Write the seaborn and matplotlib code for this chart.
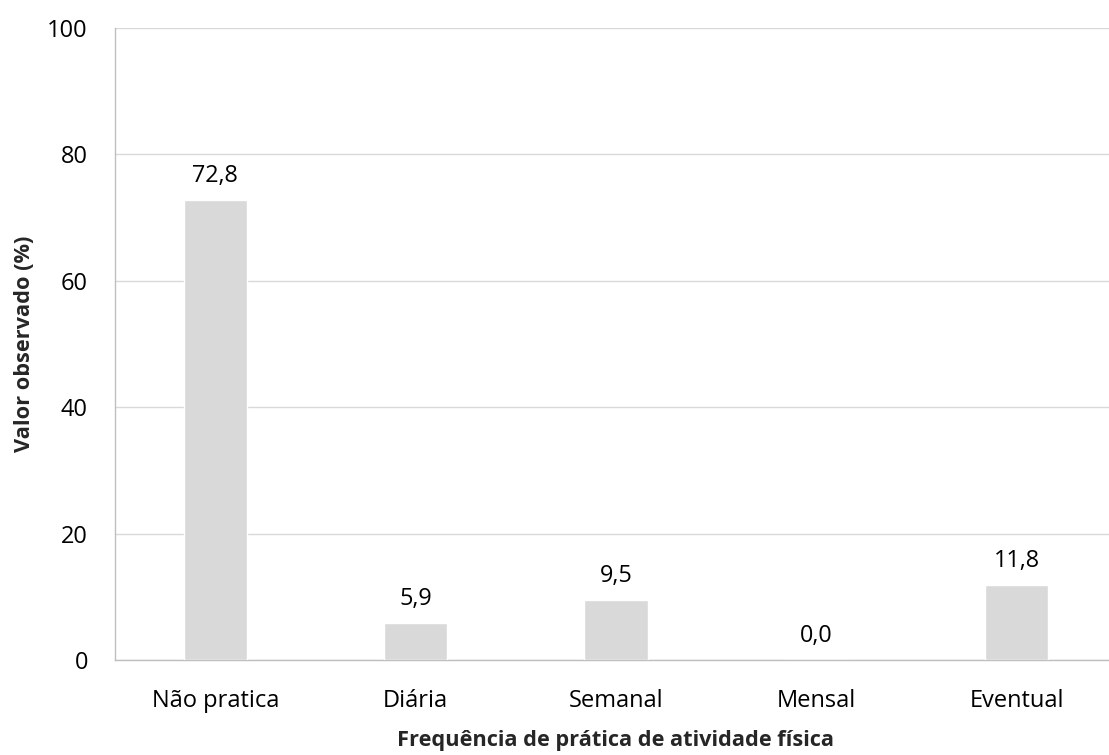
import matplotlib
matplotlib.use("Agg")
import matplotlib.pyplot as plt
import seaborn as sns
import pandas as pd

categorias = ["Não pratica", "Diária", "Semanal", "Mensal", "Eventual"]
valores = [72.8, 5.9, 9.5, 0.0, 11.8]
y_ticks = [0, 20, 40, 60, 80, 100]

sns.set_style("white")
plt.rcParams['font.family'] = ['Open Sans', 'DejaVu Sans']

df = pd.DataFrame({"cat": categorias, "val": valores})

fig = plt.figure(figsize=(11.09, 7.55), dpi=100)
ax = fig.add_axes([0.1037, 0.1258, 0.9035, 0.837])

sns.barplot(data=df, x="cat", y="val", color="#d9d9d9", width=0.315,
            saturation=1, ax=ax, zorder=3)

for i, v in enumerate(valores):
    ax.text(i, v + 1.9, f"{v:.1f}".replace(".", ","), ha="center", va="bottom",
            fontsize=16.8, color="#000000")

ax.set_ylim(0, 100)
ax.set_yticks(y_ticks)
ax.set_xlim(-0.5, len(categorias) - 0.5)
ax.yaxis.grid(True, color="#d9d9d9", linewidth=1, zorder=0)
ax.set_axisbelow(True)
for s in ["top", "right"]:
    ax.spines[s].set_visible(False)
for s in ["bottom", "left"]:
    ax.spines[s].set_color("#bfbfbf")
    ax.spines[s].set_linewidth(1)
ax.tick_params(axis="both", length=0, labelsize=17, colors="#000000")
ax.tick_params(axis="x", pad=21)
ax.tick_params(axis="y", pad=19.5)

ax.set_xlabel("Frequência de prática de atividade física", fontsize=15.7,
              fontweight="bold", labelpad=12)
ax.set_ylabel("Valor observado (%)", fontsize=15.7, fontweight="bold", labelpad=8.5)

fig.savefig("out.png", dpi=100)
